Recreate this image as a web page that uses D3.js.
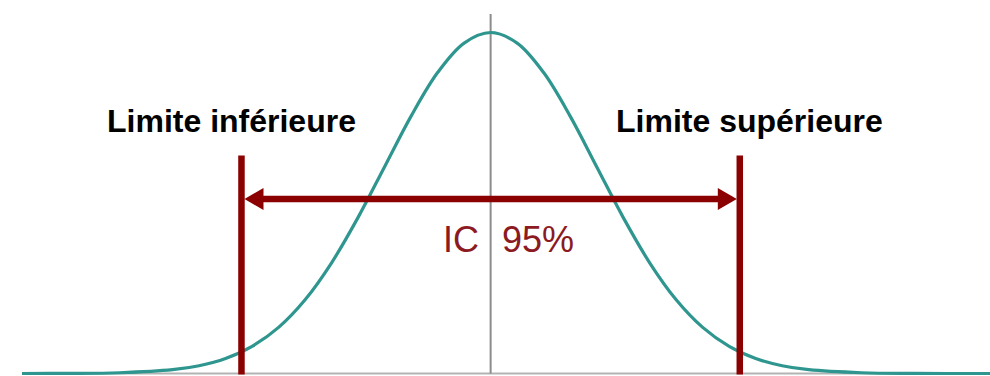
<!DOCTYPE html>
<html>
<head>
<meta charset="utf-8">
<script src="https://cdn.jsdelivr.net/npm/d3@7.9.0/dist/d3.min.js"></script>
<style>
  html, body { margin: 0; padding: 0; background: #fff; }
  svg { display: block; }
</style>
</head>
<body>
<div id="chart"></div>
<script>
// curve heights, in sigma units (relative to peak)
const zValues = [-4.42, -4, -3.5, -3, -2.75, -2.5, -2.25, -2, -1.75, -1.5, -1.25, -1, -0.75, -0.5, -0.25,
  0, 0.25, 0.5, 0.75, 1, 1.25, 1.5, 1.75, 2, 2.25, 2.5, 2.75, 3, 3.5, 4, 4.71];
const heights = [0, 0.0003, 0.0022, 0.0111, 0.0228, 0.0439, 0.0796, 0.1353, 0.2163, 0.3247, 0.4578, 0.6065, 0.7548, 0.8825, 0.969,
  1, 0.969, 0.8825, 0.7548, 0.6065, 0.4578, 0.3247, 0.2163, 0.1353, 0.0796, 0.0439, 0.0228, 0.0111, 0.0022, 0.0003, 0];
const limits = [-2.35, 2.35];
const limitLabels = ['Limite inférieure', 'Limite supérieure'];
const ciLabel = ['IC', '95%'];

const width = 990;
const height = 376;

const svg = d3.select('#chart')
  .append('svg')
  .attr('width', width)
  .attr('height', height)
  .attr('viewBox', `0 0 ${width} ${height}`);

const xScale = d3.scaleLinear().domain([-4.42, 4.71]).range([22, 990]);
const yScale = d3.scaleLinear().domain([0, 1]).range([373.5, 32.5]);

const points = zValues.map((z, i) => ({ z, h: heights[i] }));

// baseline
svg.append('line')
  .attr('x1', xScale(-4.42)).attr('x2', xScale(4.71))
  .attr('y1', yScale(0)).attr('y2', yScale(0))
  .attr('stroke', '#b3b3b3')
  .attr('stroke-width', 2);

// centre line
svg.append('line')
  .attr('x1', xScale(0)).attr('x2', xScale(0))
  .attr('y1', 14).attr('y2', yScale(0))
  .attr('stroke', '#8c8c8c')
  .attr('stroke-width', 2);

// curve
const line = d3.line()
  .x((d) => xScale(d.z))
  .y((d) => yScale(d.h))
  .curve(d3.curveCatmullRom.alpha(0.5));

svg.append('path')
  .datum(points)
  .attr('d', line)
  .attr('fill', 'none')
  .attr('stroke', '#2e968f')
  .attr('stroke-width', 3.2);

const red = '#8b0000';

// limit lines
svg.selectAll('.limit')
  .data(limits)
  .join('line')
  .attr('class', 'limit')
  .attr('x1', (d) => xScale(d)).attr('x2', (d) => xScale(d))
  .attr('y1', 155.5).attr('y2', yScale(0) + 1)
  .attr('stroke', red)
  .attr('stroke-width', 6.5);

// double arrow
const arrowY = 199;
const x0 = xScale(limits[0]) + 3;
const x1 = xScale(limits[1]) - 3;
const headLen = 19;
const headHalf = 11;

svg.append('line')
  .attr('x1', x0 + headLen - 2).attr('x2', x1 - headLen + 2)
  .attr('y1', arrowY).attr('y2', arrowY)
  .attr('stroke', red)
  .attr('stroke-width', 6.5);

svg.append('path')
  .attr('d', `M${x0},${arrowY} L${x0 + headLen},${arrowY - headHalf} L${x0 + headLen},${arrowY + headHalf} Z`)
  .attr('fill', red);

svg.append('path')
  .attr('d', `M${x1},${arrowY} L${x1 - headLen},${arrowY - headHalf} L${x1 - headLen},${arrowY + headHalf} Z`)
  .attr('fill', red);

// labels
svg.selectAll('.limit-label')
  .data(limitLabels)
  .join('text')
  .attr('class', 'limit-label')
  .attr('x', (d, i) => (i === 0 ? 107 : 616))
  .attr('y', 132)
  .attr('font-family', 'Liberation Sans, Arial, sans-serif')
  .attr('font-weight', 'bold')
  .attr('font-size', 32)
  .attr('fill', '#000')
  .text((d) => d);

svg.selectAll('.ci-label')
  .data(ciLabel)
  .join('text')
  .attr('class', 'ci-label')
  .attr('x', (d, i) => (i === 0 ? 443 : 502))
  .attr('y', 252)
  .attr('font-family', 'Liberation Sans, Arial, sans-serif')
  .attr('font-size', 36)
  .attr('fill', '#8c1a22')
  .text((d) => d);
</script>
</body>
</html>
